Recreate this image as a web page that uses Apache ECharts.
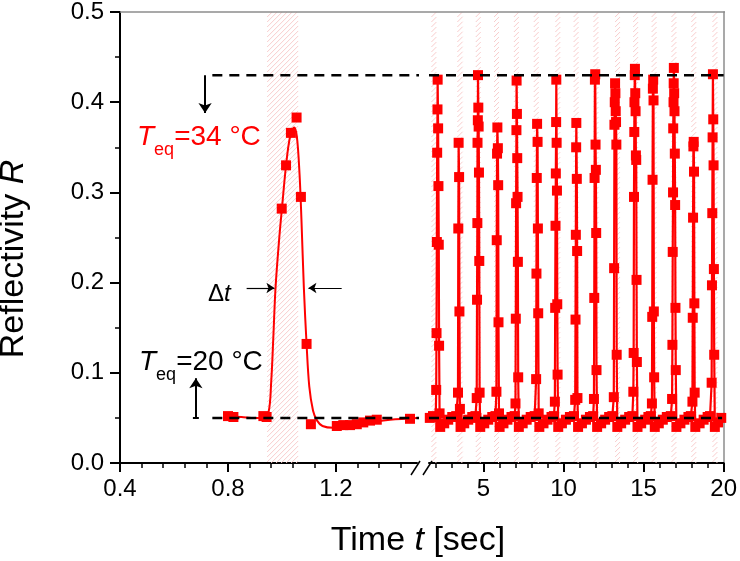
<!DOCTYPE html>
<html><head><meta charset="utf-8">
<script src="https://cdn.jsdelivr.net/npm/echarts@6/dist/echarts.min.js"></script>
<style>html,body{margin:0;padding:0;background:#fff}#c{width:740px;height:561px}</style>
</head><body><div id="c"></div>
<script>
const FONT = '"Liberation Sans", Arial, Helvetica, sans-serif';
const RED = '#ff0000';

// ---- axis ticks ----
const leftMajorTicks = [0.4, 0.8, 1.2];
const leftMinorTicks = [0.48, 0.56, 0.64, 0.72, 0.88, 0.96, 1.04, 1.12, 1.28, 1.36, 1.44];
const rightMajorTicks = [5, 10, 15, 20];
const rightMinorTicks = [2, 3, 4, 6, 7, 8, 9, 11, 12, 13, 14, 16, 17, 18, 19];

// ---- left segment (0.4 - 1.5 s) ----
const leftPoints = [[0.80,0.052],[0.82,0.051],[0.931,0.052],[0.943,0.051],[0.999,0.282],[1.015,0.330],
  [1.033,0.366],[1.054,0.383],[1.070,0.295],[1.091,0.132],[1.107,0.043],[1.203,0.041],[1.227,0.042],
  [1.252,0.042],[1.277,0.043],[1.301,0.045],[1.326,0.047],[1.351,0.048],[1.474,0.049]];
const leftFit = [[0.79,0.052],[0.85,0.051],[0.90,0.050],[0.93,0.050],[0.95,0.056],[0.96,0.090],[0.968,0.140],
  [0.976,0.194],[0.99,0.250],[1.00,0.283],[1.015,0.330],[1.03,0.362],[1.045,0.372],[1.055,0.362],
  [1.065,0.320],[1.072,0.270],[1.081,0.194],[1.091,0.132],[1.101,0.085],[1.115,0.058],[1.13,0.047],
  [1.15,0.041],[1.19,0.039],[1.25,0.041],[1.32,0.045],[1.40,0.048],[1.50,0.050]];

// ---- right segment (1.6 - 20 s), one array per pulse ----
const pulse1 = [[1.65,0.050],[1.85,0.052],[2.02,0.051],[2.05,0.081],[2.07,0.144],[2.09,0.245],[2.11,0.344],[2.13,0.392],[2.14,0.425],[2.17,0.371],[2.19,0.307],[2.21,0.242],[2.23,0.130],[2.26,0.055],[2.30,0.040],[2.55,0.044],[2.80,0.048],[3.05,0.051],[3.30,0.052]];
const pulse2 = [[3.39,0.051],[3.41,0.078],[3.43,0.260],[3.45,0.355],[3.48,0.317],[3.50,0.168],[3.53,0.060],[3.57,0.040],[3.80,0.044],[4.05,0.048],[4.30,0.051],[4.50,0.052]];
const pulse3 = [[4.56,0.050],[4.58,0.072],[4.60,0.181],[4.62,0.266],[4.63,0.355],[4.65,0.380],[4.66,0.430],[4.68,0.394],[4.70,0.373],[4.72,0.322],[4.74,0.224],[4.76,0.078],[4.80,0.040],[5.05,0.044],[5.30,0.048],[5.55,0.051],[5.75,0.052]];
const pulse4 = [[5.81,0.079],[5.83,0.247],[5.85,0.343],[5.87,0.372],[5.90,0.349],[5.92,0.308],[5.94,0.156],[5.97,0.055],[6.01,0.040],[6.25,0.044],[6.50,0.048],[6.75,0.051],[6.95,0.052]];
const pulse5 = [[7.00,0.066],[7.02,0.160],[7.04,0.288],[7.06,0.369],[7.07,0.424],[7.09,0.387],[7.11,0.338],[7.13,0.295],[7.15,0.223],[7.17,0.095],[7.21,0.040],[7.45,0.044],[7.70,0.048],[7.95,0.051],[8.20,0.052]];
const pulse6 = [[8.29,0.093],[8.31,0.210],[8.33,0.316],[8.35,0.376],[8.38,0.356],[8.40,0.260],[8.42,0.166],[8.45,0.055],[8.49,0.040],[8.75,0.044],[9.00,0.048],[9.25,0.051],[9.40,0.052]];
const pulse7 = [[9.46,0.068],[9.48,0.172],[9.50,0.263],[9.52,0.321],[9.54,0.378],[9.55,0.425],[9.57,0.355],[9.59,0.302],[9.61,0.176],[9.63,0.098],[9.67,0.040],[9.90,0.044],[10.15,0.048],[10.40,0.051],[10.65,0.052]];
const pulse8 = [[10.73,0.070],[10.75,0.159],[10.77,0.253],[10.79,0.350],[10.80,0.377],[10.83,0.315],[10.85,0.235],[10.87,0.072],[10.91,0.040],[11.15,0.044],[11.40,0.048],[11.65,0.051],[11.85,0.052]];
const pulse9 = [[11.90,0.071],[11.92,0.183],[11.94,0.316],[11.96,0.425],[11.98,0.431],[12.00,0.353],[12.02,0.325],[12.04,0.255],[12.06,0.103],[12.10,0.040],[12.35,0.044],[12.60,0.048],[12.85,0.051],[13.05,0.052]];
const pulse10 = [[13.14,0.073],[13.16,0.216],[13.18,0.375],[13.20,0.400],[13.22,0.421],[13.24,0.410],[13.26,0.390],[13.28,0.378],[13.30,0.353],[13.32,0.120],[13.36,0.040],[13.60,0.044],[13.85,0.048],[14.10,0.051],[14.30,0.052]];
const pulse11 = [[14.36,0.079],[14.38,0.122],[14.40,0.295],[14.42,0.367],[14.43,0.400],[14.45,0.430],[14.46,0.437],[14.48,0.410],[14.50,0.390],[14.52,0.341],[14.54,0.336],[14.56,0.203],[14.58,0.112],[14.62,0.040],[14.85,0.044],[15.10,0.048],[15.30,0.051],[15.45,0.052]];
const pulse12 = [[15.52,0.066],[15.54,0.162],[15.56,0.314],[15.58,0.415],[15.60,0.425],[15.62,0.402],[15.64,0.168],[15.66,0.095],[15.70,0.040],[15.95,0.044],[16.20,0.048],[16.45,0.051],[16.70,0.052]];
const pulse13 = [[16.78,0.071],[16.80,0.131],[16.82,0.234],[16.84,0.300],[16.85,0.371],[16.87,0.400],[16.88,0.421],[16.89,0.438],[16.91,0.410],[16.93,0.390],[16.95,0.343],[16.97,0.286],[16.99,0.172],[17.01,0.103],[17.05,0.040],[17.30,0.044],[17.55,0.048],[17.80,0.051],[17.95,0.052]];
const pulse14 = [[18.05,0.068],[18.07,0.161],[18.09,0.272],[18.11,0.351],[18.13,0.356],[18.15,0.323],[18.17,0.177],[18.19,0.078],[18.23,0.040],[18.50,0.044],[18.75,0.048],[19.00,0.051],[19.15,0.052]];
const pulse15 = [[19.25,0.089],[19.27,0.197],[19.29,0.277],[19.31,0.361],[19.33,0.431],[19.35,0.381],[19.37,0.330],[19.39,0.215],[19.41,0.120],[19.45,0.040],[19.65,0.045],[19.85,0.050]];

// ---- heating windows (hatched): [start, end] in seconds ----
const hatchLeft = [[0.945, 1.06]];
const hatchRight = [[1.75,2.06],[3.37,3.70],[4.52,4.83],[5.66,5.97],[6.90,7.21],[8.14,8.45],[9.49,9.80],
  [10.63,10.94],[11.87,12.18],[13.22,13.53],[14.35,14.66],[15.50,15.81],[16.74,17.05],[17.98,18.29],[19.30,19.61]];

// ---- reference levels and annotation anchors ----
const levelHigh = 0.43, levelLow = 0.05;
const levelStartT = 0.742;
const arrowHighT = 0.715, arrowHighEnd = 0.388;
const arrowLowT = 0.681, arrowLowEnd = 0.094;
const dtLevel = 0.194;
const dtLeft = [0.869, 0.972], dtRight = [1.221, 1.098];

const HATCH = '#f9cdcd';
const HATCH_STEP = 5;
// hatched band: diagonal lines clipped to the band, band edges mapped through the axes
function renderHatch(params, api) {
  const p0 = api.coord([api.value(0), 0]);
  const p1 = api.coord([api.value(1), 0.5]);
  const x0 = p0[0], x1 = p1[0], bottom = p0[1], top = p1[1];
  const H = bottom - top;
  const children = [];
  for (let c = x0 - H; c < x1; c += HATCH_STEP) {
    const u0 = Math.max(0, x0 - c), u1 = Math.min(H, x1 - c);
    if (u1 <= u0) continue;
    children.push({ type: 'line', shape: { x1: c + u0, y1: bottom - u0, x2: c + u1, y2: bottom - u1 },
      style: { stroke: HATCH, lineWidth: 1 } });
  }
  return { type: 'group', children };
}

const rightData = [].concat(pulse1, pulse2, pulse3, pulse4, pulse5, pulse6, pulse7, pulse8,
  pulse9, pulse10, pulse11, pulse12, pulse13, pulse14, pulse15);

const chart = echarts.init(document.getElementById('c'), null, { renderer: 'canvas' });

const majorX = (grid, min, max, ticks, fmt) => ({
  gridIndex: grid, type: 'value', min, max, position: 'bottom',
  axisLine: { show: true, onZero: false, lineStyle: { color: '#000', width: 2 } },
  axisTick: { show: true, inside: false, length: 9, customValues: ticks, lineStyle: { color: '#000', width: 2 } },
  axisLabel: { show: true, customValues: ticks, formatter: fmt, margin: 14, fontSize: 24, fontFamily: FONT, color: '#000' },
  splitLine: { show: false }
});
const minorX = (grid, min, max, ticks) => ({
  gridIndex: grid, type: 'value', min, max, position: 'bottom',
  axisLine: { show: false, onZero: false },
  axisTick: { show: true, inside: false, length: 5, customValues: ticks, lineStyle: { color: '#000', width: 1.5 } },
  axisLabel: { show: false }, splitLine: { show: false }
});

const option = {
  animation: false,
  backgroundColor: '#fff',
  grid: [
    { left: 120, top: 12, width: 297, height: 451, containLabel: false },
    { left: 429, top: 12, width: 296, height: 451, containLabel: false }
  ],
  xAxis: [
    majorX(0, 0.4, 1.5, leftMajorTicks, v => v.toFixed(1)),
    minorX(0, 0.4, 1.5, leftMinorTicks),
    majorX(1, 1.6, 20, rightMajorTicks, v => String(Math.round(v))),
    minorX(1, 1.6, 20, rightMinorTicks)
  ],
  yAxis: [
    { gridIndex: 0, type: 'value', min: 0, max: 0.5, interval: 0.1, position: 'left',
      axisLine: { show: true, onZero: false, lineStyle: { color: '#000', width: 2 } },
      axisTick: { show: true, inside: false, length: 10, lineStyle: { color: '#000', width: 2 } },
      minorTick: { show: true, splitNumber: 2, length: 5, lineStyle: { color: '#000', width: 1.5 } },
      axisLabel: { formatter: v => v.toFixed(1), margin: 16, fontSize: 24, fontFamily: FONT, color: '#000' },
      splitLine: { show: false } },
    { gridIndex: 1, type: 'value', min: 0, max: 0.5, interval: 0.1, position: 'right',
      axisLine: { show: true, onZero: false, lineStyle: { color: '#8c8c8c', width: 1.5 } },
      axisTick: { show: false }, axisLabel: { show: false }, splitLine: { show: false } }
  ],
  series: [
    // hatched windows
    { type: 'custom', xAxisIndex: 0, yAxisIndex: 0, data: hatchLeft, renderItem: renderHatch, silent: true, z: 1,
      encode: { x: [0, 1] } },
    { type: 'custom', xAxisIndex: 2, yAxisIndex: 1, data: hatchRight, renderItem: renderHatch, silent: true, z: 1,
      encode: { x: [0, 1] } },
    // fitted curve (left)
    { type: 'line', xAxisIndex: 0, yAxisIndex: 0, data: leftFit, smooth: 0.35, showSymbol: false,
      lineStyle: { color: RED, width: 2 }, z: 3 },
    // measured points (left)
    { type: 'scatter', xAxisIndex: 0, yAxisIndex: 0, data: leftPoints, symbol: 'rect', symbolSize: 10,
      itemStyle: { color: RED, opacity: 1 }, z: 4 },
    // measured points (right)
    { type: 'line', xAxisIndex: 2, yAxisIndex: 1, data: rightData, symbol: 'rect', symbolSize: 10, showAllSymbol: true,
      lineStyle: { color: RED, width: 2.2 }, itemStyle: { color: RED }, z: 4 },
    // reference levels
    { type: 'line', xAxisIndex: 0, yAxisIndex: 0, clip: false, showSymbol: false, z: 6,
      data: [[levelStartT, levelHigh], [1.55, levelHigh]], lineStyle: { color: '#000', width: 2.5, type: [10, 7] } },
    { type: 'line', xAxisIndex: 0, yAxisIndex: 0, clip: false, showSymbol: false, z: 6,
      data: [[levelStartT, levelLow], [1.55, levelLow]], lineStyle: { color: '#000', width: 2.5, type: [10, 7] } },
    { type: 'line', xAxisIndex: 2, yAxisIndex: 1, showSymbol: false, z: 6,
      data: [[1.6, levelHigh], [20, levelHigh]], lineStyle: { color: '#000', width: 2.5, type: [10, 7] } },
    { type: 'line', xAxisIndex: 2, yAxisIndex: 1, showSymbol: false, z: 6,
      data: [[1.6, levelLow], [19.9, levelLow]], lineStyle: { color: '#000', width: 2.5, type: [10, 7] } },
    // arrows
    { type: 'line', xAxisIndex: 0, yAxisIndex: 0, data: [], z: 7,
      markLine: { silent: true, symbol: ['none', 'arrow'], symbolSize: 10, label: { show: false },
        lineStyle: { color: '#000', width: 2, type: 'solid' },
        data: [
          [{ coord: [arrowHighT, levelHigh] }, { coord: [arrowHighT, arrowHighEnd] }],
          [{ coord: [arrowLowT, levelLow] }, { coord: [arrowLowT, arrowLowEnd] }],
          [{ coord: [arrowLowT - 0.011, levelLow], symbol: 'none' }, { coord: [arrowLowT + 0.011, levelLow], symbol: 'none' }],
          [{ coord: [dtLeft[0], dtLevel], lineStyle: { width: 1.2 } }, { coord: [dtLeft[1], dtLevel], symbolSize: 8 }],
          [{ coord: [dtRight[0], dtLevel], lineStyle: { width: 1.2 } }, { coord: [dtRight[1], dtLevel], symbolSize: 8 }]
        ] } }
  ],
  graphic: [
    { type: 'line', z: 50, shape: { x1: 120, y1: 12, x2: 725, y2: 12 }, style: { stroke: '#8c8c8c', lineWidth: 1.5 } },
    { type: 'line', z: 50, shape: { x1: 411, y1: 475, x2: 420, y2: 461 }, style: { stroke: '#000', lineWidth: 1.5 } },
    { type: 'line', z: 50, shape: { x1: 423, y1: 475, x2: 432, y2: 461 }, style: { stroke: '#000', lineWidth: 1.5 } },
    { type: 'text', z: 50, x: 418, y: 541, style: { text: 'Time {i|t} [sec]', fontSize: 34, fontFamily: FONT, fill: '#000',
      align: 'center', verticalAlign: 'middle', rich: { i: { fontSize: 34, fontFamily: FONT, fontStyle: 'italic', fill: '#000' } } } },
    { type: 'text', z: 50, x: 14, y: 259, rotation: Math.PI / 2, style: { text: 'Reflectivity {i|R}', fontSize: 34, fontFamily: FONT, fill: '#000',
      align: 'center', verticalAlign: 'middle', rich: { i: { fontSize: 34, fontFamily: FONT, fontStyle: 'italic', fill: '#000' } } } },
    { type: 'text', z: 50, x: 137, y: 137, style: { text: '{t|T}{s|eq}{n|=34 °C}', align: 'left', verticalAlign: 'middle',
      rich: { t: { fontSize: 28, fontFamily: FONT, fontStyle: 'italic', fill: RED },
              s: { fontSize: 18, fontFamily: FONT, fill: RED, padding: [26, 0, 0, 0] },
              n: { fontSize: 28, fontFamily: FONT, fill: RED } } } },
    { type: 'text', z: 50, x: 139, y: 362, style: { text: '{t|T}{s|eq}{n|=20 °C}', align: 'left', verticalAlign: 'middle',
      rich: { t: { fontSize: 28, fontFamily: FONT, fontStyle: 'italic', fill: '#000' },
              s: { fontSize: 18, fontFamily: FONT, fill: '#000', padding: [26, 0, 0, 0] },
              n: { fontSize: 28, fontFamily: FONT, fill: '#000' } } } },
    { type: 'text', z: 50, x: 208, y: 294, style: { text: 'Δ{i|t}', fontSize: 24, fontFamily: FONT, fill: '#000', align: 'left', verticalAlign: 'middle',
      rich: { i: { fontSize: 24, fontFamily: FONT, fontStyle: 'italic', fill: '#000' } } } }
  ]
};
chart.setOption(option);
</script>
</body></html>
